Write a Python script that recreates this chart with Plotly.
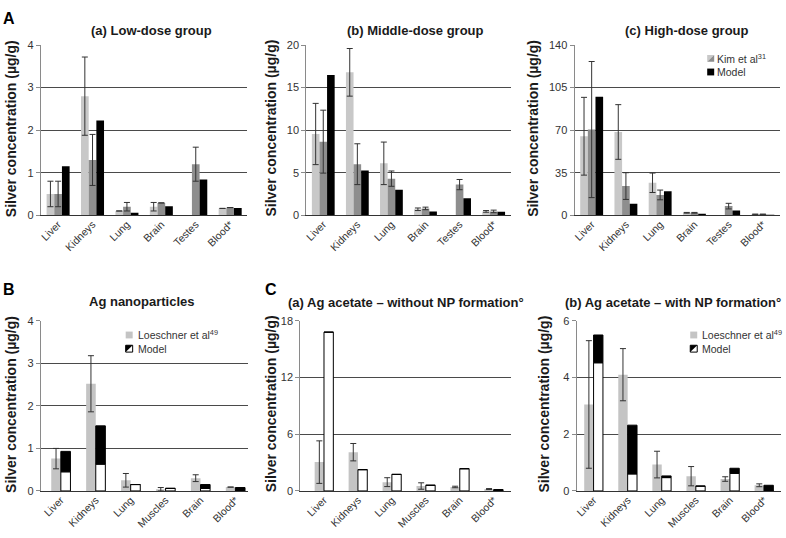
import plotly.graph_objects as go

# ---------------- data ----------------
CAT_A = ["Liver", "Kidneys", "Lung", "Brain", "Testes", "Blood*"]
CAT_BC = ["Liver", "Kidneys", "Lung", "Muscles", "Brain", "Blood*"]

# A (a) low dose  (Kim et al: light = female, dark = male; Model)
low_light = [0.5, 2.8, 0.1, 0.2, None, 0.16]
low_light_err = [0.3, 0.92, 0.0, 0.1, None, 0.0]
low_dark = [0.5, 1.3, 0.2, 0.29, 1.2, 0.18]
low_dark_err = [0.3, 0.6, 0.1, 0.0, 0.4, 0.0]
low_model = [1.15, 2.23, 0.06, 0.21, 0.84, 0.17]

# A (b) middle dose
mid_light = [9.55, 16.8, 6.1, 0.7, None, 0.45]
mid_light_err = [3.6, 2.8, 2.5, 0.15, None, 0.1]
mid_dark = [8.65, 6.0, 4.3, 0.8, 3.6, 0.45]
mid_dark_err = [3.7, 2.4, 0.9, 0.15, 0.6, 0.15]
mid_model = [16.5, 5.25, 3.0, 0.45, 2.0, 0.4]

# A (c) high dose
high_light = [65.0, 68.5, 26.7, 2.0, None, 0.8]
high_light_err = [32.0, 22.5, 8.0, 0.3, None, 0.1]
high_dark = [70.5, 24.0, 16.7, 2.0, 7.5, 0.8]
high_dark_err = [56.0, 11.0, 4.0, 0.3, 2.3, 0.1]
high_model = [97.5, 9.5, 19.8, 1.2, 3.9, 0.4]

# B Ag nanoparticles (Loeschner et al; Model split white / black)
np_obs = [0.76, 2.52, 0.25, 0.04, 0.30, 0.09]
np_obs_err = [0.24, 0.66, 0.16, 0.04, 0.08, 0.0]
np_model_white = [0.45, 0.63, 0.15, 0.06, 0.06, 0.0]
np_model_black = [0.48, 0.90, 0.0, 0.0, 0.09, 0.08]

# C Ag acetate (observed)
ac_obs = [3.05, 4.1, 0.93, 0.52, 0.42, 0.2]
ac_obs_err = [2.25, 0.92, 0.47, 0.34, 0.08, 0.05]
# C (a) without NP formation
ac_a_white = [16.8, 2.25, 1.75, 0.6, 2.35, 0.0]
ac_a_black = [0.0, 0.0, 0.0, 0.0, 0.0, 0.15]
# C (b) with NP formation
ac_b_white = [4.52, 0.6, 0.47, 0.17, 0.62, 0.0]
ac_b_black = [0.98, 1.72, 0.06, 0.0, 0.18, 0.2]

Y_MAX = [4, 20, 140, 4, 18, 6]
Y_DTICK = [1, 5, 35, 1, 6, 2]
TITLES = ["(a) Low-dose group", "(b) Middle-dose group", "(c) High-dose group",
          "Ag nanoparticles", "(a) Ag acetate \u2013 without NP formation\u00b0",
          "(b) Ag acetate \u2013 with NP formation\u00b0"]

# ---------------- style ----------------
W, H = 786, 538
FONT = "Liberation Sans, Arial, sans-serif"
LIGHT = "#c8c8c8"
DARK = "#8e8e8e"
GRAY = "#c4c4c4"
ERR = dict(type="data", symmetric=True, color="#333333", thickness=1, width=3)


def px(x):
    return x / W


def py(y):
    return 1 - y / H


# plot rectangles in pixels: (left, right, top, bottom)
RECTS = [(39, 246, 40, 214), (305, 510, 40, 214), (574, 780, 40, 214),
         (39, 247, 322, 496), (299, 510, 322, 496), (576, 781, 322, 496)]
XRANGES = [[-0.5, 5.5], [-0.5, 5.5], [-0.5, 5.5],
           [-0.571, 5.371], [-0.7, 5.5], [-0.5, 5.5]]

fig = go.Figure()


def add_bar(i, n, shift, vals, color, width, err=None, base=None, outline=False):
    ax = "" if i == 1 else str(i)
    xs = [k + shift for k in range(n)]
    kw = dict(x=xs, y=vals, width=width,
              marker=dict(color=color,
                          line=dict(color="#000000", width=1 if outline else 0)),
              xaxis="x" + ax, yaxis="y" + ax, showlegend=False, hoverinfo="y")
    if err is not None:
        kw["error_y"] = dict(ERR, array=err)
    if base is not None:
        kw["base"] = base
    fig.add_trace(go.Bar(**kw))


# A panels: three bars per organ
bw = 0.223
for i, (l, le, d, de, m) in enumerate([
        (low_light, low_light_err, low_dark, low_dark_err, low_model),
        (mid_light, mid_light_err, mid_dark, mid_dark_err, mid_model),
        (high_light, high_light_err, high_dark, high_dark_err, high_model)], start=1):
    add_bar(i, len(CAT_A), -bw, l, LIGHT, bw, err=le)
    add_bar(i, len(CAT_A), 0.0, d, DARK, bw, err=de)
    add_bar(i, len(CAT_A), bw, m, "#000000", bw)

# B and C panels: observed + stacked model
bw2 = 0.275
for i, (wv, bv) in [(4, (np_model_white, np_model_black)),
                    (5, (ac_a_white, ac_a_black)),
                    (6, (ac_b_white, ac_b_black))]:
    obs, oerr = (np_obs, np_obs_err) if i == 4 else (ac_obs, ac_obs_err)
    n = len(CAT_BC)
    add_bar(i, n, -bw2 / 2, obs, GRAY, bw2, err=oerr)
    add_bar(i, n, bw2 / 2, wv, "#ffffff", bw2, outline=True)
    add_bar(i, n, bw2 / 2, bv, "#000000", bw2, base=wv, outline=True)

layout = dict(width=W, height=H, margin=dict(l=0, r=0, t=0, b=0),
              paper_bgcolor="white", plot_bgcolor="white", barmode="overlay",
              font=dict(family=FONT, size=11, color="#333333"),
              showlegend=False)

annotations = []
for k, (l, r, t, b) in enumerate(RECTS, start=1):
    ax = "" if k == 1 else str(k)
    cats = CAT_A if k <= 3 else CAT_BC
    layout["xaxis" + ax] = dict(
        domain=[px(l), px(r)], anchor="y" + ax, range=XRANGES[k - 1],
        tickmode="array", tickvals=list(range(len(cats))), ticktext=cats,
        tickangle=-45, showline=True, linecolor="#333333", linewidth=1,
        showgrid=False, zeroline=False, ticks="", ticklabelstandoff=-2,
        tickfont=dict(size=10.5, color="#333333"), fixedrange=True)
    layout["yaxis" + ax] = dict(
        domain=[py(b), py(t)], anchor="x" + ax, range=[0, Y_MAX[k - 1]],
        dtick=Y_DTICK[k - 1], tick0=0, showline=True, linecolor="#8a8a8a",
        linewidth=1, ticks="outside", ticklen=4, tickcolor="#8a8a8a",
        showgrid=True, gridcolor="#4a4a4a", gridwidth=1, zeroline=False,
        tickfont=dict(size=11, color="#333333"), fixedrange=True)

# y-axis titles
YT = [(9, 125), (270, 125), (533, 125), (9, 407), (270, 407), (543, 407)]
for (x, y) in YT:
    annotations.append(dict(x=px(x), y=py(y), xref="paper", yref="paper",
                            text="<b>Silver concentration (\u00b5g/g)</b>",
                            textangle=-90, showarrow=False,
                            font=dict(size=14, color="#1a1a1a"),
                            xanchor="center", yanchor="middle"))

# panel titles
TPOS = [(150, 25), (415, 25), (687, 25), (140, 302), (405, 303), (673, 303)]
for (x, y), t in zip(TPOS, TITLES):
    annotations.append(dict(x=px(x), y=py(y), xref="paper", yref="paper",
                            text="<b>" + t + "</b>", showarrow=False,
                            font=dict(size=13, color="#1a1a1a"),
                            xanchor="center", yanchor="middle"))

# panel letters
for (x, y), t in zip([(7, 13), (7, 290), (270, 290)], ["A", "B", "C"]):
    annotations.append(dict(x=px(x), y=py(y), xref="paper", yref="paper",
                            text="<b>" + t + "</b>", showarrow=False,
                            font=dict(size=16, color="#000000"),
                            xanchor="center", yanchor="middle"))

shapes = []


def poly(pts, fill, line_w=0):
    path = "M " + " L ".join(f"{px(a):.5f},{py(b):.5f}" for a, b in pts) + " Z"
    shapes.append(dict(type="path", path=path, xref="paper", yref="paper",
                       fillcolor=fill, line=dict(color="#000000", width=line_w)))


def legend_text(x, y, text):
    annotations.append(dict(x=px(x), y=py(y), xref="paper", yref="paper",
                            text=text, showarrow=False,
                            font=dict(size=10.5, color="#333333"),
                            xanchor="left", yanchor="middle"))


# A(c) legend
sx, s = 707, 7
poly([(sx, 50), (sx + s, 50), (sx, 57)], LIGHT)
poly([(sx + s, 50), (sx + s, 57), (sx, 57)], DARK)
poly([(sx, 64), (sx + s, 64), (sx + s, 71), (sx, 71)], "#000000")
legend_text(715, 53.5, "Kim et al<sup>31</sup>")
legend_text(715, 67.5, "Model")

# B and C(b) legends
for sx, tx in [(124, 134), (690, 700)]:
    poly([(sx, 333), (sx + s, 333), (sx + s, 340), (sx, 340)], GRAY)
    poly([(sx, 347), (sx + s, 347), (sx + s, 354), (sx, 354)], "#ffffff", 1)
    poly([(sx, 347), (sx + s, 347), (sx, 354)], "#000000", 0)
    legend_text(tx, 336.5, "Loeschner et al<sup>49</sup>")
    legend_text(tx, 350.5, "Model")

layout["annotations"] = annotations
layout["shapes"] = shapes
fig.update_layout(**layout)
fig.write_html(
    "out.html",
    config={"displayModeBar": False, "staticPlot": True},
    post_script="document.body.style.margin='0';document.body.style.padding='0';"
                "document.body.style.overflow='hidden';")
